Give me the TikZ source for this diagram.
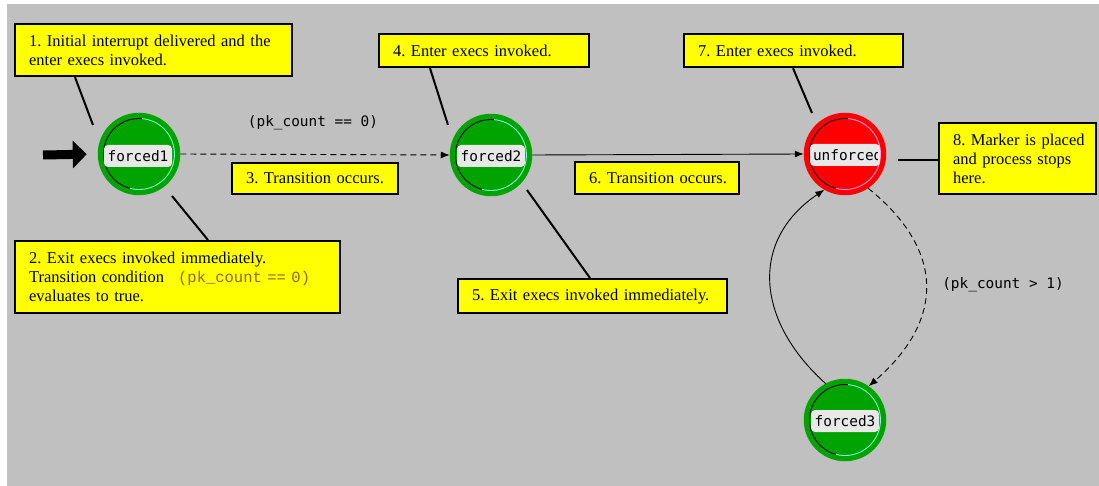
\documentclass[tikz,border=0pt]{standalone}
\usepackage{fontspec}
\setmainfont{Liberation Serif}
\setmonofont{DejaVu Sans Mono}
\newfontfamily\codefont{Liberation Mono}
\usetikzlibrary{arrows.meta}

\definecolor{canvas}{RGB}{192,192,192}
\definecolor{stgreen}{RGB}{0,163,0}
\definecolor{stred}{RGB}{255,0,0}
\definecolor{notey}{RGB}{255,255,0}
\definecolor{ringgreen}{RGB}{120,255,210}
\definecolor{ringred}{RGB}{255,150,225}
\definecolor{condbrown}{RGB}{150,100,40}
\definecolor{lblfill}{RGB}{232,232,232}

\tikzset{
  note/.style={draw=black, line width=2.2pt, fill=notey, anchor=north west,
    inner xsep=0pt, inner ysep=0pt, align=left,
    font=\fontsize{16.5}{19}\selectfont,
    execute at begin node={\leftskip=14pt\frenchspacing
      \hyphenpenalty=10000\exhyphenpenalty=10000}},
  state/.style={circle, minimum size=80pt, inner sep=0pt, line width=2.5pt},
  lbl/.style={fill=lblfill, rounded corners=4pt, minimum width=68pt,
    minimum height=22pt, inner sep=0pt,
    font=\ttfamily\fontsize{14.4}{16}\selectfont},
  cond/.style={font=\ttfamily\fontsize{14.4}{16}\selectfont},
  callout/.style={line width=2pt},
  trans/.style={line width=0.9pt, -{Latex[length=9pt,width=7pt]}},
  guard/.style={trans, dash pattern=on 6pt off 4pt},
}

% inner two-tone ring of a state
\newcommand\statering[3]{%
  \draw[#2, line width=0.9pt] ([shift={(85:35.5pt)}]#1.center)
    arc[start angle=85, end angle=255, radius=35.5pt];
  \draw[#3, line width=0.9pt] ([shift={(255:35.5pt)}]#1.center)
    arc[start angle=255, end angle=445, radius=35.5pt];
}

\begin{document}
\begin{tikzpicture}[x=1pt, y=-1pt]
  \path[use as bounding box, fill=white] (0,0) rectangle (1099,486);
  \fill[canvas] (7,4) rectangle (1099,486);

  % states
  \node[state, draw=stgreen, fill=stgreen] (f1) at (139,154) {};
  \node[state, draw=stgreen, fill=stgreen] (f2) at (491,155) {};
  \node[state, draw=stred, fill=stred] (uf) at (845,154) {};
  \node[state, draw=stgreen, fill=stgreen] (f3) at (845,420) {};
  \statering{f1}{black}{ringgreen}
  \statering{f2}{black}{ringgreen}
  \statering{uf}{black}{ringred}
  \statering{f3}{black}{ringgreen}

  \node[lbl] (f1l) at (138,156) {forced1};
  \node[lbl] (f2l) at (491,156) {forced2};
  \node[lbl] (f3l) at (845,421) {forced3};
  \node[lbl, minimum width=70pt] (ufl) at (845,155) {};
  \begin{scope}
    \clip ([xshift=2pt]ufl.south west) rectangle ([xshift=-3pt]ufl.north east);
    \node[cond, anchor=west, inner sep=0pt] (uft) at ([xshift=3pt]ufl.west) {unforced};
  \end{scope}

  % initial marker
  \coordinate (start) at (43,155);
  \draw[line width=9pt, -{Triangle[length=14pt,width=27pt]}, shorten >=11pt]
    (start) -- (f1.west);

  % transitions
  \draw[guard] (f1.east) -- (f2.west);
  \draw[trans] (f2.east) -- (uf.west);
  \draw[trans] (f3.118) .. controls (755,320) and (750,240) .. (uf.240);
  \draw[guard] (uf.-56) .. controls (945,250) and (945,320) .. (f3.55);

  \node[cond] (c0) at (313,123) {(pk\_count == 0)};
  \node[cond] (c1) at (1003,285) {(pk\_count > 1)};

  % notes (text width = box width)
  \node[note, text width=277pt, minimum height=52pt] (b1) at (14,23)
    {1. Initial interrupt delivered and the\\enter execs invoked.};
  \node[note, text width=325pt, minimum height=72pt] (b2) at (14,240)
    {2. Exit execs invoked immediately.\\Transition condition\hspace{14pt}{\codefont\fontsize{15.5}{19}\selectfont\color{condbrown}(pk\_count == 0)}\\evaluates to true.};
  \node[note, text width=166pt, minimum height=31pt] (b3) at (231,162)
    {3. Transition occurs.};
  \node[note, text width=210pt, minimum height=33pt] (b4) at (378,33)
    {4. Enter execs invoked.};
  \node[note, text width=269pt, minimum height=34pt] (b5) at (457,278)
    {5. Exit execs invoked immediately.};
  \node[note, text width=164pt, minimum height=32pt] (b6) at (574,161)
    {6. Transition occurs.};
  \node[note, text width=219pt, minimum height=33pt] (b7) at (683,33)
    {7. Enter execs invoked.};
  \node[note, text width=157pt, minimum height=71pt] (b8) at (938,122)
    {8. Marker is placed\\and process stops\\here.};

  % callout leaders
  \coordinate (p1) at (93,125);
  \coordinate (p2) at (172,196);
  \coordinate (p4) at (448,125);
  \coordinate (p5) at (527,190);
  \coordinate (p7) at (812,113);
  \coordinate (p8) at (898,160);
  \draw[callout] (b1.south west) ++(61,0) -- (p1);
  \draw[callout] (p2) -- ([xshift=194pt]b2.north west);
  \draw[callout] (b4.south west) ++(52,0) -- (p4);
  \draw[callout] (p5) -- ([xshift=133pt]b5.north west);
  \draw[callout] (b7.south west) ++(110,0) -- (p7);
  \draw[callout] (p8) -- (p8 -| b8.west);
\end{tikzpicture}
\end{document}
